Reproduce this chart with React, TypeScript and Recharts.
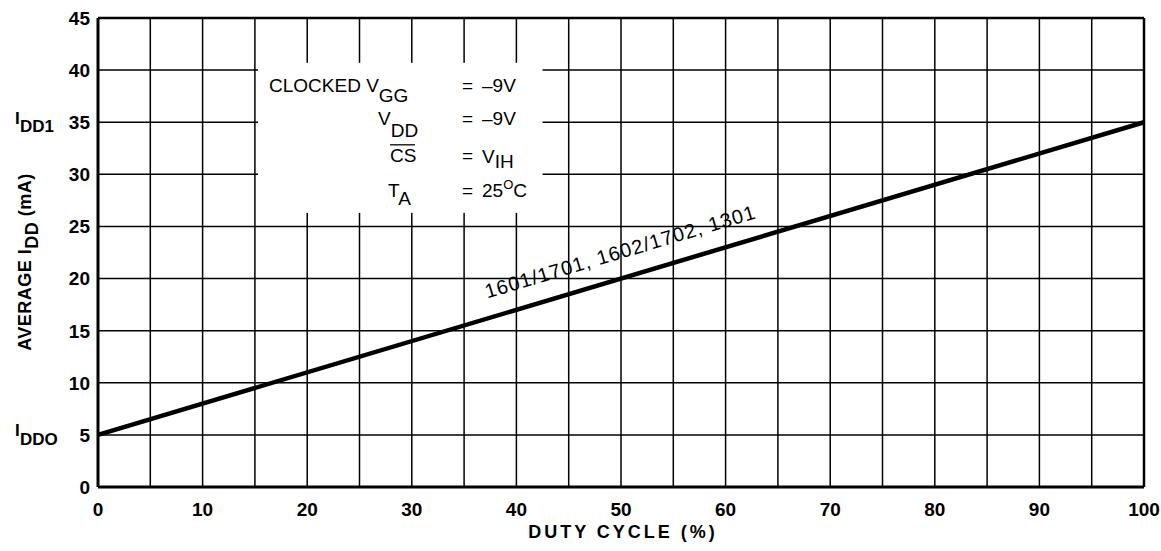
import { LineChart, Line, XAxis, YAxis, CartesianGrid, ReferenceArea, ReferenceDot, ReferenceLine } from 'recharts';

const FONT = "'Liberation Sans', Arial, Helvetica, sans-serif";

// duty cycle (%) vs average IDD (mA)
const dutyCycle = [0, 100];
const averageIdd = [5, 35];

const xTicks = [0, 10, 20, 30, 40, 50, 60, 70, 80, 90, 100];
const yTicks = [0, 5, 10, 15, 20, 25, 30, 35, 40, 45];
const xGridValues = [0, 5, 10, 15, 20, 25, 30, 35, 40, 45, 50, 55, 60, 65, 70, 75, 80, 85, 90, 95, 100];

const curveLabel = '1601/1701, 1602/1702, 1301';
const sideLabels: Record<number, string> = { 35: 'DD1', 5: 'DDO' };

const data = dutyCycle.map((d, i) => ({ duty: d, idd: averageIdd[i] }));

function YTick(props: any) {
  const { x, y, payload } = props;
  const sub = sideLabels[payload.value];
  return (
    <g fontFamily={FONT} fontWeight={700} fill="#000">
      <text x={x} y={y} dy="0.36em" textAnchor="end" fontSize={19}>
        {payload.value}
      </text>
      {sub && (
        <text x={15} y={y + 1.5} fontSize={17}>
          I
          <tspan x={20} dy={8.5}>{sub}</tspan>
        </text>
      )}
    </g>
  );
}

function XTick(props: any) {
  const { x, y, payload } = props;
  return (
    <text x={x} y={y} dy="0.71em" textAnchor="middle" fontFamily={FONT} fontWeight={700} fontSize={19} fill="#000">
      {payload.value}
    </text>
  );
}

function ConditionsBox(props: any) {
  const { x, y, width, height } = props;
  const vx = x + 224;
  const ex = x + 204;
  return (
    <g fontFamily={FONT} fontSize={19} fill="#000">
      <rect x={x} y={y} width={width} height={height} fill="#fff" />
      <text x={x + 11} y={y + 29}>
        CLOCKED V<tspan dy={10}>GG</tspan>
      </text>
      <text x={ex} y={y + 29}>=</text>
      <text x={vx} y={y + 29}>–9V</text>

      <text x={x + 120} y={y + 62}>
        V<tspan dy={12}>DD</tspan>
      </text>
      <text x={ex} y={y + 62}>=</text>
      <text x={vx} y={y + 62}>–9V</text>

      <text x={x + 132} y={y + 99}>CS</text>
      <line x1={x + 132} x2={x + 157} y1={y + 82} y2={y + 82} stroke="#000" strokeWidth={1.3} />
      <text x={ex} y={y + 99}>=</text>
      <text x={vx} y={y + 100}>
        V<tspan dy={5}>IH</tspan>
      </text>

      <text x={x + 130} y={y + 134}>
        T<tspan dy={8}>A</tspan>
      </text>
      <text x={ex} y={y + 134}>=</text>
      <text x={vx} y={y + 134}>
        25<tspan fontSize={13} dy={-8}>O</tspan>
        <tspan dy={8}>C</tspan>
      </text>
    </g>
  );
}

function CurveLabel(props: any) {
  const { cx, cy } = props;
  return (
    <text
      transform={`translate(${cx},${cy}) rotate(-16.6) translate(7,-19)`}
      textAnchor="middle"
      fontFamily={FONT}
      fontSize={20}
      letterSpacing={1}
      fill="#000"
    >
      {curveLabel}
    </text>
  );
}

export default function App() {
  return (
    <div style={{ position: 'absolute', left: 0, top: 0, width: 1161, height: 551, background: '#fff' }}>
      <LineChart width={1161} height={551} data={data} margin={{ top: 18, right: 17, left: 38, bottom: 34 }}>
        <CartesianGrid
          stroke="#000"
          strokeWidth={1.5}
          verticalValues={xGridValues}
          horizontalValues={yTicks}
        />
        <XAxis
          dataKey="duty"
          type="number"
          domain={[0, 100]}
          ticks={xTicks}
          tickLine={false}
          tickMargin={10}
          height={30}
          axisLine={{ stroke: '#000', strokeWidth: 3 }}
          tick={<XTick />}
          interval={0}
        />
        <YAxis
          type="number"
          domain={[0, 45]}
          ticks={yTicks}
          tickLine={false}
          width={60}
          axisLine={{ stroke: '#000', strokeWidth: 3 }}
          tick={<YTick />}
          interval={0}
        />
        <ReferenceLine y={45} stroke="#000" strokeWidth={2.5} />
        <ReferenceLine x={100} stroke="#000" strokeWidth={2.5} />
        <ReferenceArea x1={15.3} x2={42.5} y1={26.3} y2={40.7} shape={(p: any) => <ConditionsBox {...p} />} />
        <Line
          type="linear"
          dataKey="idd"
          stroke="#000"
          strokeWidth={4.5}
          dot={false}
          isAnimationActive={false}
        />
        <ReferenceDot x={50} y={20} r={0} shape={(p: any) => <CurveLabel {...p} />} />
      </LineChart>
      <svg
        width={1161}
        height={551}
        style={{ position: 'absolute', left: 0, top: 0, pointerEvents: 'none' }}
      >
        <text
          transform="translate(31,262) rotate(-90)"
          textAnchor="middle"
          fontFamily={FONT}
          fontWeight={700}
          fontSize={18}
          letterSpacing={0.5}
          fill="#000"
        >
          AVERAGE I<tspan dy={7}>DD</tspan>
          <tspan dy={-7}> (mA)</tspan>
        </text>
        <text
          x={623}
          y={538}
          textAnchor="middle"
          fontFamily={FONT}
          fontWeight={700}
          fontSize={18}
          letterSpacing={3}
          fill="#000"
        >
          DUTY CYCLE (%)
        </text>
      </svg>
    </div>
  );
}
